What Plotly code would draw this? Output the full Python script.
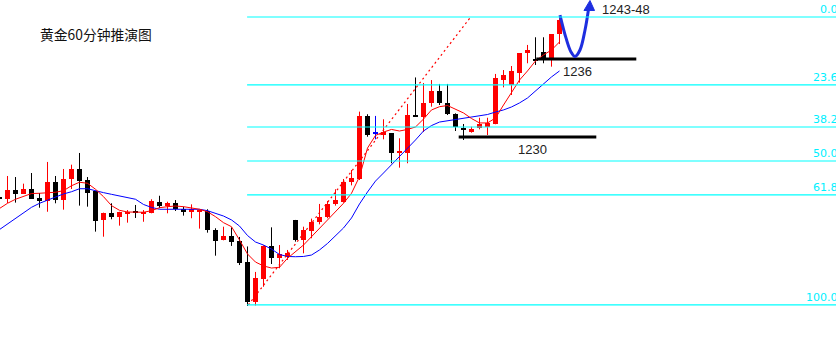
import plotly.graph_objects as go

# ---------------- data ----------------
idx = list(range(71))
opens = [1225.42, 1225.25, 1225.92, 1225.62, 1226.00, 1225.31, 1225.10, 1226.54, 1225.15, 1226.77,
         1227.54, 1226.69, 1225.85, 1223.64, 1224.18, 1223.87, 1224.08, 1224.25, 1224.15, 1224.18,
         1224.98, 1224.69, 1224.90, 1224.44, 1224.23, 1224.25, 1224.33, 1222.85, 1222.05, 1222.38,
         1222.00, 1220.41, 1217.31, 1219.10, 1221.62, 1220.72, 1220.79, 1223.62, 1222.08, 1222.79,
         1223.46, 1223.82, 1224.85, 1225.02, 1226.54, 1226.79, 1231.62, 1230.23, 1230.21, 1230.28,
         1228.82, 1228.79, 1231.69, 1231.56, 1232.64, 1233.56, 1232.59, 1231.75, 1230.67, 1230.41,
         1230.67, 1230.79, 1230.98, 1234.38, 1234.00, 1234.95, 1236.44, 1235.92, 1236.56, 1236.10,
         1237.92]
highs = [1225.54, 1227.00, 1226.92, 1226.41, 1227.23, 1225.69, 1228.08, 1227.00, 1227.54, 1227.87,
         1228.77, 1226.92, 1225.85, 1224.18, 1224.90, 1224.25, 1224.38, 1224.77, 1224.38, 1225.21,
         1225.48, 1225.02, 1225.15, 1224.64, 1224.82, 1224.41, 1224.44, 1222.98, 1223.10, 1223.05,
         1222.31, 1221.58, 1219.62, 1221.67, 1223.05, 1221.69, 1221.31, 1223.62, 1223.10, 1223.72,
         1224.85, 1225.08, 1225.98, 1226.77, 1227.46, 1231.95, 1231.75, 1231.62, 1231.36, 1230.28,
         1229.90, 1232.54, 1234.58, 1234.15, 1234.38, 1234.08, 1234.08, 1231.82, 1231.00, 1230.79,
         1231.48, 1231.48, 1234.85, 1235.15, 1235.46, 1236.44, 1237.08, 1237.67, 1237.67, 1237.92,
         1239.31]
lows = [1225.08, 1224.92, 1224.95, 1225.62, 1225.25, 1224.56, 1224.25, 1224.90, 1224.41, 1226.00,
        1224.72, 1224.64, 1222.72, 1222.33, 1223.67, 1223.18, 1223.41, 1223.77, 1223.48, 1224.13,
        1224.52, 1224.13, 1224.31, 1223.95, 1223.75, 1222.95, 1222.64, 1220.87, 1222.05, 1221.62,
        1220.15, 1217.00, 1217.04, 1218.48, 1220.23, 1219.90, 1220.54, 1221.95, 1221.05, 1222.21,
        1223.28, 1223.75, 1224.72, 1224.95, 1226.28, 1226.69, 1230.02, 1229.82, 1229.82, 1227.98,
        1227.64, 1227.98, 1231.58, 1230.38, 1232.33, 1232.46, 1231.69, 1230.46, 1229.77, 1230.33,
        1230.59, 1230.15, 1230.98, 1233.82, 1233.23, 1234.18, 1235.67, 1235.54, 1235.67, 1235.41,
        1237.15]
closes = [1225.23, 1225.92, 1225.62, 1226.00, 1225.25, 1225.10, 1226.54, 1225.15, 1226.77, 1227.54,
          1226.64, 1225.72, 1223.56, 1224.18, 1223.87, 1224.25, 1224.25, 1224.18, 1224.25, 1225.10,
          1224.69, 1224.92, 1224.44, 1224.25, 1224.44, 1224.41, 1222.85, 1222.02, 1222.38, 1221.95,
          1220.33, 1217.33, 1219.13, 1221.62, 1220.72, 1220.98, 1221.10, 1222.08, 1222.85, 1223.46,
          1223.87, 1224.85, 1225.15, 1226.56, 1226.85, 1231.62, 1230.15, 1230.23, 1230.36, 1228.79,
          1228.87, 1231.69, 1231.59, 1232.64, 1233.56, 1232.59, 1231.75, 1230.75, 1230.54, 1230.64,
          1230.98, 1231.05, 1234.52, 1234.77, 1235.08, 1236.44, 1236.69, 1235.85, 1236.10, 1237.92,
          1239.00]
ma_fast = [1224.50, 1224.90, 1225.21, 1225.46, 1225.65, 1225.67, 1225.72, 1225.75, 1225.87, 1226.25,
           1226.52, 1226.44, 1225.98, 1225.41, 1224.72, 1224.36, 1224.23, 1224.23, 1224.21, 1224.33,
           1224.56, 1224.64, 1224.69, 1224.64, 1224.56, 1224.44, 1224.25, 1223.87, 1223.41, 1223.10,
           1222.08, 1221.00, 1220.38, 1220.08, 1219.92, 1219.98, 1220.67, 1221.18, 1221.69, 1222.33,
           1222.98, 1223.62, 1224.25, 1224.90, 1225.67, 1226.95, 1229.15, 1230.12, 1230.38, 1230.58,
           1230.46, 1230.58, 1230.77, 1231.38, 1232.08, 1232.33, 1232.42, 1232.15, 1231.85, 1231.42,
           1231.08, 1231.08, 1231.46, 1232.46, 1233.38, 1234.38, 1235.08, 1235.85, 1236.31, 1236.69,
           1237.31]
ma_slow = [1222.88, 1223.31, 1223.75, 1224.18, 1224.59, 1224.90, 1225.15, 1225.41, 1225.62, 1225.79,
           1226.02, 1226.02, 1225.85, 1225.72, 1225.59, 1225.48, 1225.36, 1225.21, 1224.81, 1224.58,
           1224.44, 1224.44, 1224.44, 1224.44, 1224.44, 1224.44, 1224.33, 1224.15, 1223.92, 1223.62,
           1223.15, 1222.42, 1221.92, 1221.69, 1221.38, 1220.96, 1220.81, 1220.79, 1220.81, 1220.92,
           1221.31, 1221.81, 1222.38, 1223.00, 1223.77, 1224.85, 1225.77, 1226.61, 1227.23, 1227.85,
           1228.46, 1229.15, 1229.77, 1230.46, 1230.88, 1231.15, 1231.25, 1231.38, 1231.46, 1231.54,
           1231.65, 1231.73, 1231.92, 1232.08, 1232.31, 1232.62, 1233.00, 1233.54, 1234.08, 1234.62,
           1235.08]

swing_low_idx = 31
swing_high = 1239.23
swing_low = 1217.08
fib_ratios = [0.0, 0.236, 0.382, 0.5, 0.618, 1.0]
fib_labels = ["0.0", "23.6", "38.2", "50.0", "61.8", "100.0"]

support_levels = [1236, 1230]
support_labels = ["1236", "1230"]
target_label = "1243-48"
title_text = "黄金60分钟推演图"

trend_x = [31.1, 58.9]
trend_y = [1217.08, 1239.23]

proj_x = [70.06, 70.81, 71.44, 71.94, 72.56, 73.19, 73.63]
proj_y = [1239.38, 1237.62, 1236.54, 1236.19, 1236.69, 1238.23, 1239.85]
arrow_x = [73.81, 73.06, 74.38, 73.81]
arrow_y = [1240.50, 1239.73, 1239.73, 1240.50]

# ---------------- figure ----------------
XR = [0.0625, 104.5625]
YR = [1240.538 - 357 / 13, 1240.538]

RED, BLACK, BLUE = "#ff0000", "#000000", "#0000ff"

def colour(o, c):
    if c > o:
        return RED
    if c < o:
        return BLACK
    return BLUE

cols = [colour(o, c) for o, c in zip(opens, closes)]
base = [min(o, c) for o, c in zip(opens, closes)]
height = [max(abs(c - o), 0.08) for o, c in zip(opens, closes)]

fig = go.Figure()

# fib lines
fib_levels = [swing_high - r * (swing_high - swing_low) for r in fib_ratios]
for lvl, lab in zip(fib_levels, fib_labels):
    fig.add_shape(type="line", x0=swing_low_idx - 0.05, x1=XR[1], y0=lvl, y1=lvl,
                  line=dict(color="#00ffff", width=1.2))
    fig.add_annotation(xref="paper", x=1.0045, y=lvl, yanchor="bottom", xanchor="right",
                       text=lab, showarrow=False, yshift=-1,
                       font=dict(family="DejaVu Sans", size=11, color="#00f0ff"))

# wicks
for c in (RED, BLACK, BLUE):
    wx, wy = [], []
    for i in idx:
        if cols[i] == c:
            wx += [i, i, None]
            wy += [lows[i], highs[i], None]
    fig.add_trace(go.Scatter(x=wx, y=wy, mode="lines", line=dict(color=c, width=1),
                             hoverinfo="skip"))

# bodies
fig.add_trace(go.Bar(x=idx, y=height, base=base, width=0.66,
                     marker=dict(color=cols, line=dict(width=0))))

# moving averages
fig.add_trace(go.Scatter(x=idx, y=ma_slow, mode="lines", line=dict(color=BLUE, width=1)))
fig.add_trace(go.Scatter(x=idx, y=ma_fast, mode="lines", line=dict(color=RED, width=1)))

# trend line
fig.add_trace(go.Scatter(x=trend_x, y=trend_y, mode="lines",
                         line=dict(color=RED, width=1.2, dash="2px,3px")))

# support lines
support_x = [[67.1, 79.6], [57.4, 74.6]]
for lvl, (a, b) in zip(support_levels, support_x):
    fig.add_trace(go.Scatter(x=[a, b], y=[lvl, lvl], mode="lines",
                             line=dict(color=BLACK, width=3)))

fig.add_annotation(x=72.3, y=support_levels[0], yanchor="top", xanchor="center", yshift=-3,
                   text=support_labels[0], showarrow=False,
                   font=dict(family="Liberation Sans", size=13, color="#222222"))
fig.add_annotation(x=66.6, y=support_levels[1], yanchor="top", xanchor="center", yshift=-3,
                   text=support_labels[1], showarrow=False,
                   font=dict(family="Liberation Sans", size=13, color="#222222"))

# projection
fig.add_trace(go.Scatter(x=proj_x, y=proj_y, mode="lines", line=dict(color="#1e2ee0", width=3, shape="spline")))
fig.add_trace(go.Scatter(x=arrow_x, y=arrow_y, mode="lines", fill="toself", fillcolor="#1e2ee0",
                         line=dict(color="#1e2ee0", width=1)))
fig.add_annotation(x=75.0, y=1239.77, xanchor="left", yanchor="middle", text=target_label,
                   showarrow=False, font=dict(family="Liberation Sans", size=13, color="#222222"))

# title
fig.add_annotation(xref="paper", yref="paper", x=38 / 836, y=1 - 34.5 / 357, xanchor="left",
                   yanchor="middle", text=title_text, showarrow=False,
                   font=dict(family="Noto Sans CJK SC", size=13.8, color="#111111"))

fig.update_layout(width=836, height=357, margin=dict(l=0, r=0, t=0, b=0),
                  paper_bgcolor="white", plot_bgcolor="white", showlegend=False,
                  xaxis=dict(range=XR, visible=False, fixedrange=True),
                  yaxis=dict(range=YR, visible=False, fixedrange=True),
                  bargap=0)

fig.write_html("out.html")
